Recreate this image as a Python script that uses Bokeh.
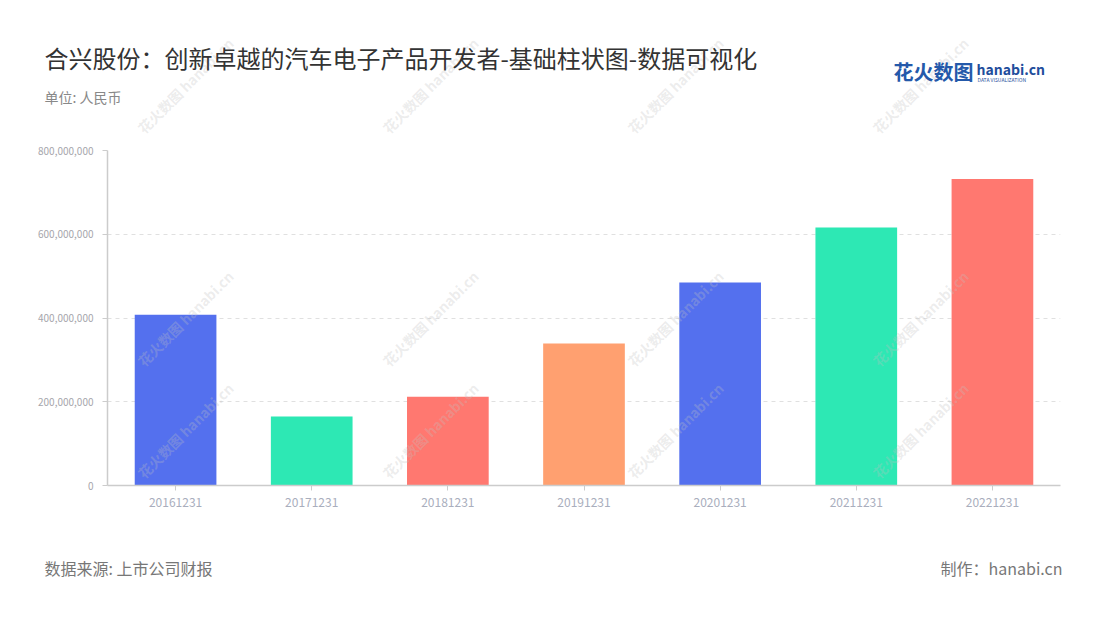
from bokeh.plotting import figure
from bokeh.layouts import column
from bokeh.models import Label, NumeralTickFormatter, FixedTicker, Range1d
from bokeh.core.properties import value
from bokeh.embed import file_html
from bokeh.resources import INLINE

categories = ["20161231", "20171231", "20181231", "20191231", "20201231", "20211231", "20221231"]
values = [408000000, 165000000, 212000000, 339000000, 485000000, 616000000, 732000000]
colors = ["#5470ee", "#2de8b4", "#ff7870", "#ffa070", "#5470ee", "#2de8b4", "#ff7870"]
y_ticks = [0, 200000000, 400000000, 600000000, 800000000]

title_text = "合兴股份：创新卓越的汽车电子产品开发者-基础柱状图-数据可视化"
unit_text = "单位: 人民币"
source_text = "数据来源: 上市公司财报"
maker_text = "制作：hanabi.cn"

FONT = "Noto Sans CJK SC"
W = 1084
HEAD_H = 140
MAIN_TOP = 10
FRAME_H = 335
MAIN_BOTTOM = 45
MAIN_H = MAIN_TOP + FRAME_H + MAIN_BOTTOM
FOOT_H = 74
LEFT = 107
RIGHT = W - 1060

WM_TEXT = "花火数图 hanabi.cn"
WM_X = (185, 430, 675, 920)
WM_HEAD_Y = 85
WM_MAIN_Y = (318, 430)
WM_KW = dict(text_font_size="14px", text_color="#c0c0c0", text_alpha=0.3,
             text_align="center", text_baseline="middle", angle=0.785)


def blank(h, top):
    f = figure(width=W, height=h, x_range=Range1d(0, W), y_range=Range1d(top + h, top),
               output_backend="svg", toolbar_location=None,
               x_axis_location=None, y_axis_location=None,
               min_border=0, min_border_left=0, min_border_right=0,
               min_border_top=0, min_border_bottom=0)
    f.frame_align = False
    f.outline_line_color = None
    f.grid.visible = False
    f.background_fill_color = "white"
    f.border_fill_color = "white"
    return f


def txt(f, x, y, t, size, color, align="left", style="normal"):
    f.text(x=[x], y=[y], text=[t], text_font=value(FONT), text_font_size=size,
           text_color=color, text_align=align, text_baseline="middle", text_font_style=style)


# ---------- header ----------
head = blank(HEAD_H, 0)
for cx in WM_X:
    head.text(x=[cx], y=[WM_HEAD_Y], text=[WM_TEXT], text_font=value(FONT),
              text_font_style="bold", **WM_KW)
txt(head, 44, 57, title_text, "24px", "#333333")
txt(head, 44, 96, unit_text, "14px", "#888888")
txt(head, 893, 71, "花火数图", "20px", "#2459aa", style="bold")
txt(head, 976, 68, "hanabi.cn", "14px", "#1f4e9c", style="bold")
txt(head, 977, 79, "DATA VISUALIZATION", "5px", "#1f4e9c")

# ---------- main chart ----------
p = figure(x_range=categories, y_range=(0, 800000000), width=W, height=MAIN_H,
           output_backend="svg", toolbar_location=None,
           min_border_left=LEFT, min_border_right=RIGHT,
           min_border_top=MAIN_TOP, min_border_bottom=MAIN_BOTTOM)
p.frame_align = False
p.outline_line_color = None
p.background_fill_color = "white"
p.border_fill_color = "white"

p.vbar(x=categories, top=values, width=0.6, color=colors, line_color=None)

p.xgrid.grid_line_color = None
p.ygrid.grid_line_color = "#e0e0e0"
p.ygrid.grid_line_dash = "4 4"
p.yaxis.ticker = FixedTicker(ticks=y_ticks)
p.yaxis.formatter = NumeralTickFormatter(format="0,0")
for ax in (p.xaxis, p.yaxis):
    ax.axis_line_color = "#cccccc"
    ax.axis_line_width = 1.5
    ax.major_tick_line_color = "#cccccc"
    ax.minor_tick_line_color = None
    ax.major_tick_out = 5
    ax.major_tick_in = 0
    ax.major_label_text_font = FONT
p.yaxis.major_label_text_color = "#a6a6ac"
p.yaxis.major_label_text_font_size = "10px"
p.yaxis.major_label_standoff = 9
p.xaxis.major_label_text_color = "#a9aebd"
p.xaxis.major_label_text_font_size = "12px"
p.xaxis.major_label_standoff = 7

frame_bottom_page = HEAD_H + MAIN_TOP + FRAME_H
for cx in WM_X:
    for cy in WM_MAIN_Y:
        p.add_layout(Label(x=cx - LEFT, y=frame_bottom_page - cy, x_units="screen", y_units="screen",
                           text=WM_TEXT, text_font=FONT, text_font_style="bold", **WM_KW))

# ---------- footer ----------
foot_top = HEAD_H + MAIN_H
foot = blank(FOOT_H, foot_top)
txt(foot, 44, 567, source_text, "16px", "#777777")
txt(foot, 1062, 567, maker_text, "16px", "#777777", align="right")

layout = column(head, p, foot, spacing=0)
open("out.html", "w").write(file_html(layout, INLINE))
